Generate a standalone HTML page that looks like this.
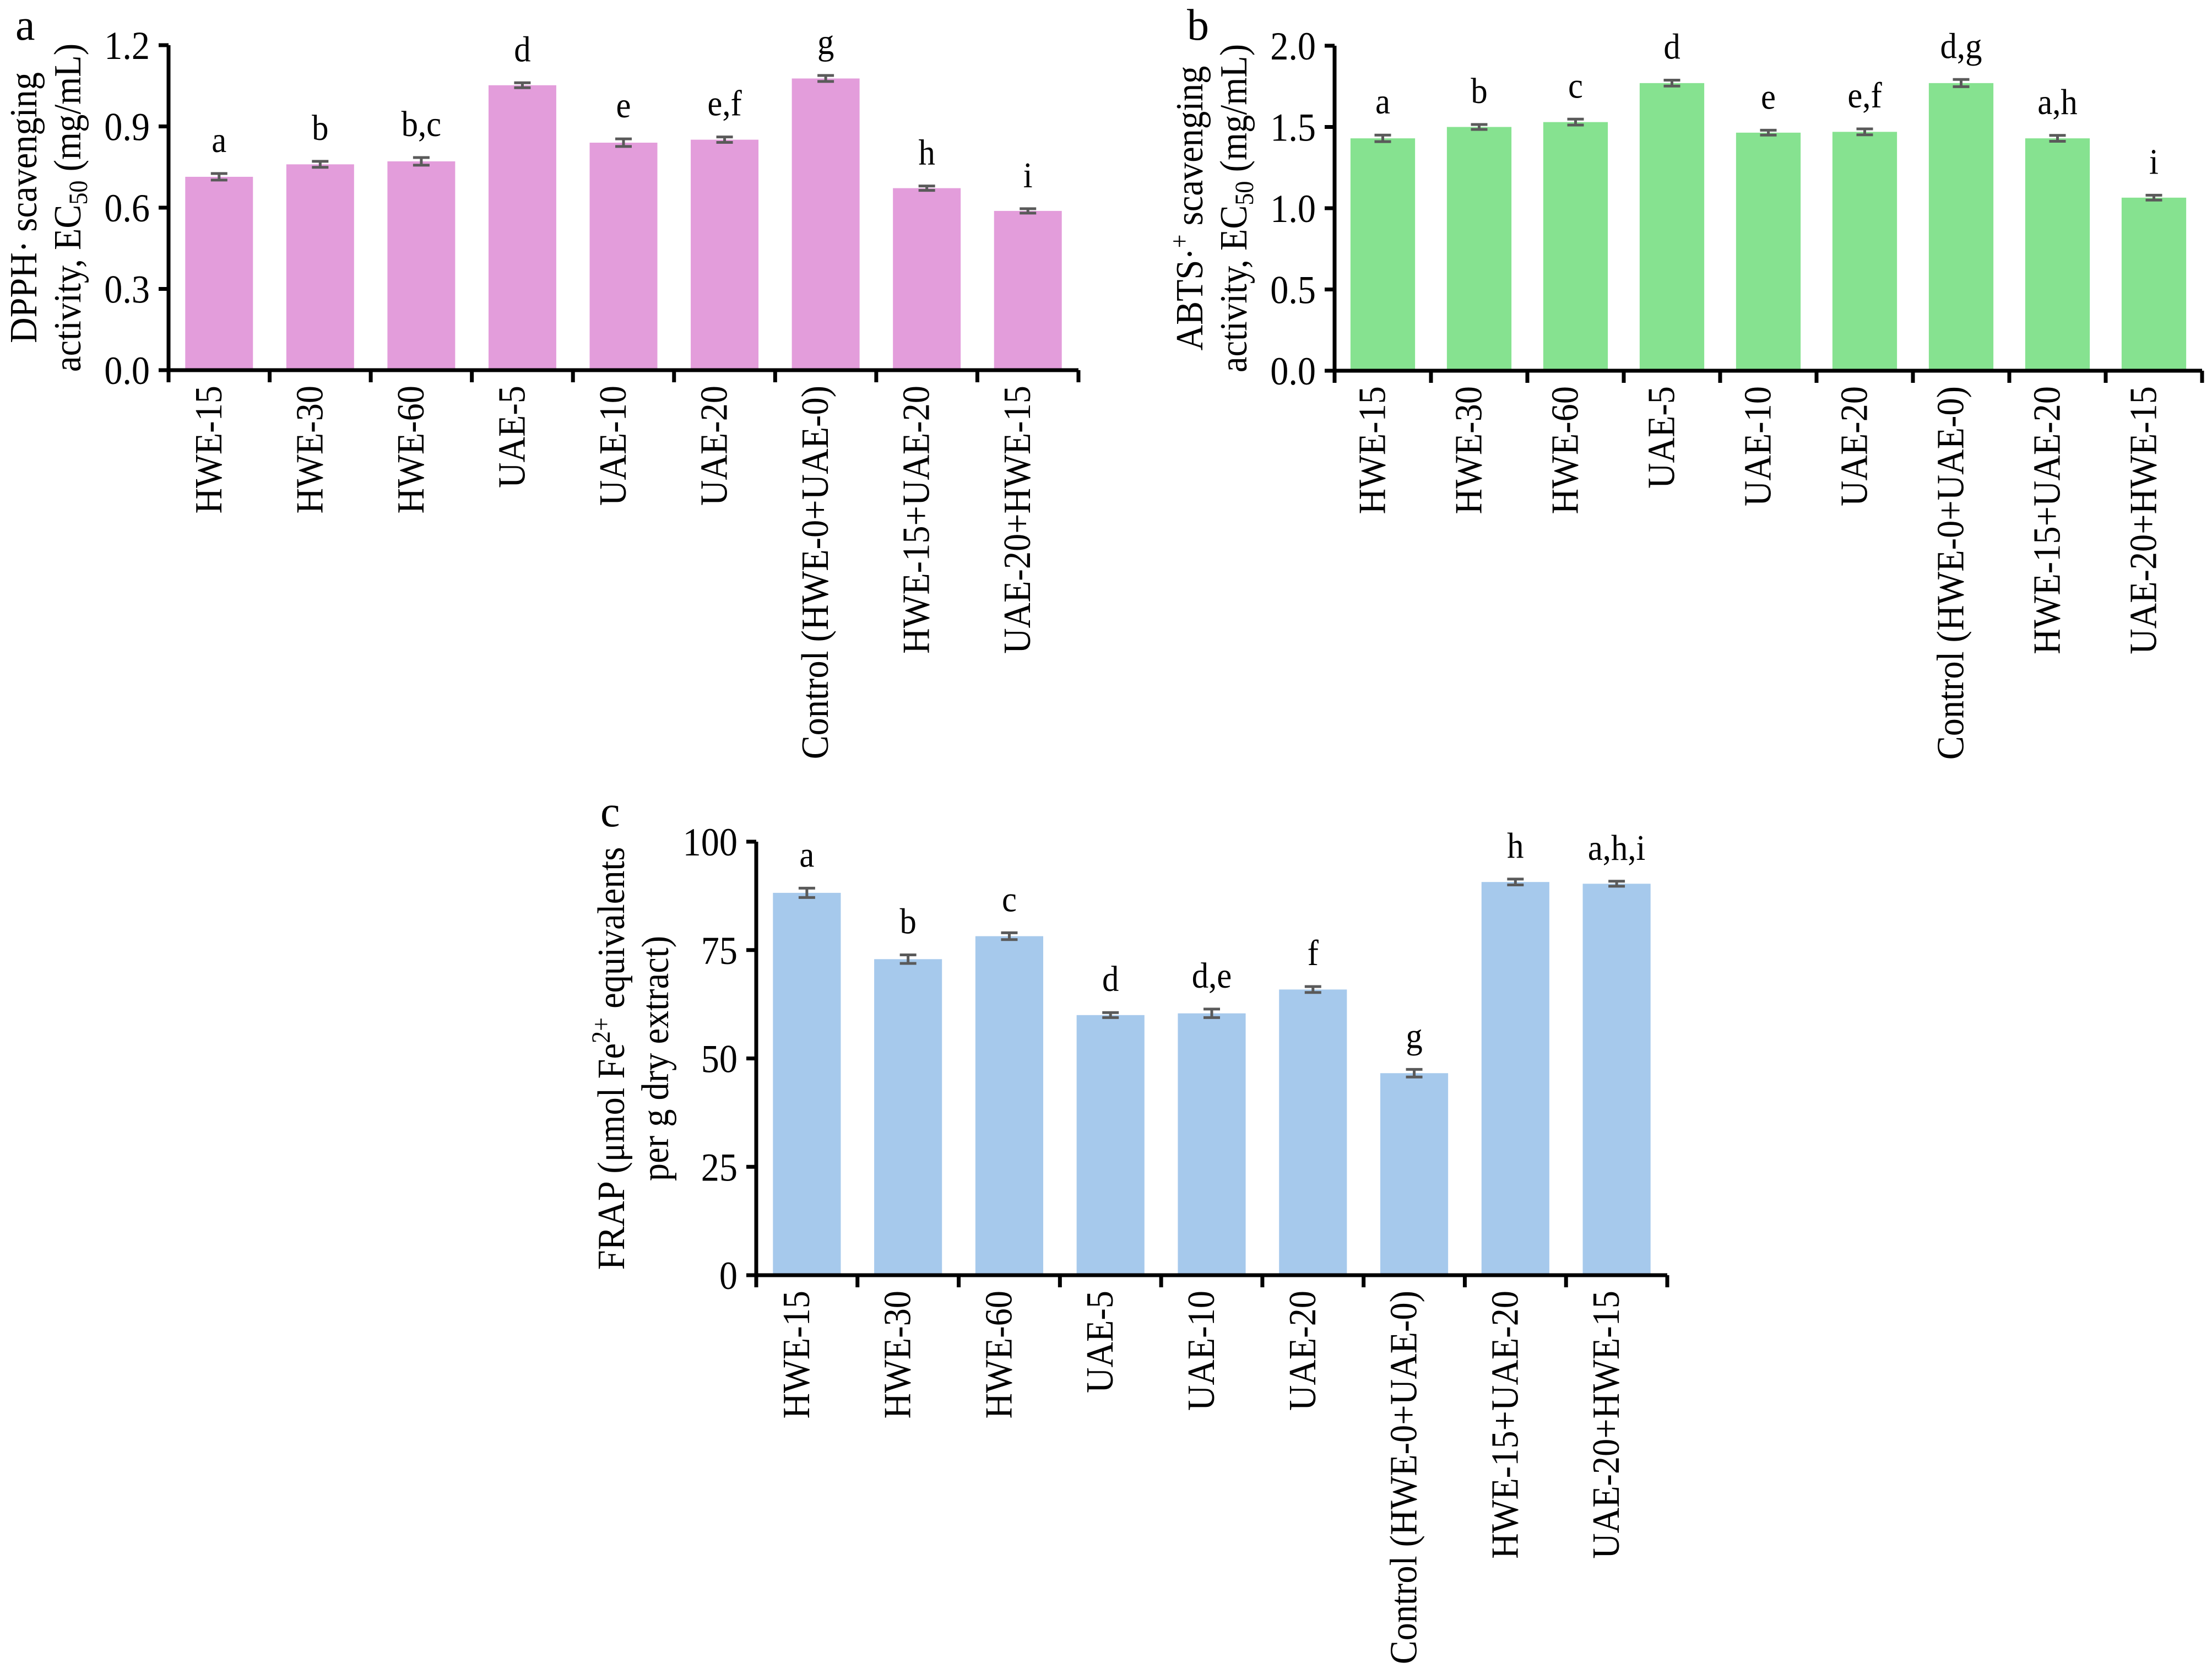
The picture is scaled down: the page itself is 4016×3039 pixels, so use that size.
<!DOCTYPE html>
<html><head><meta charset="utf-8"><style>
html,body{margin:0;padding:0;background:#fff;}
svg{display:block;font-family:"Liberation Serif","Times New Roman",serif;}
</style></head><body>
<svg id="fig" width="4016" height="3039" viewBox="0 0 4016 3039" xmlns="http://www.w3.org/2000/svg">
<rect width="4016" height="3039" fill="#fff"/>
</svg>
<script>
const categories = ["HWE-15","HWE-30","HWE-60","UAE-5","UAE-10","UAE-20","Control (HWE-0+UAE-0)","HWE-15+UAE-20","UAE-20+HWE-15"];
const dpphValues = [0.714,0.760,0.771,1.052,0.840,0.851,1.077,0.672,0.588];
const dpphErrors = [0.006,0.005,0.008,0.003,0.008,0.004,0.005,0.002,0.002];
const dpphLetters = ["a","b","b,c","d","e","e,f","g","h","i"];
const dpphTicks = [0.0,0.3,0.6,0.9,1.2];
const dpphTickLabels = ["0.0","0.3","0.6","0.9","1.2"];
const abtsValues = [1.43,1.50,1.53,1.77,1.465,1.47,1.77,1.43,1.065];
const abtsErrors = [0.010,0.005,0.008,0.008,0.005,0.008,0.012,0.008,0.005];
const abtsLetters = ["a","b","c","d","e","e,f","d,g","a,h","i"];
const abtsTicks = [0.0,0.5,1.0,1.5,2.0];
const abtsTickLabels = ["0.0","0.5","1.0","1.5","2.0"];
const frapValues = [88.2,72.9,78.2,60.0,60.4,65.9,46.6,90.7,90.3];
const frapErrors = [0.7,0.6,0.4,0.2,0.6,0.3,0.5,0.3,0.2];
const frapLetters = ["a","b","c","d","d,e","f","g","h","a,h,i"];
const frapTicks = [0,25,50,75,100];
const frapTickLabels = ["0","25","50","75","100"];

const NS = "http://www.w3.org/2000/svg";
const svg = document.getElementById("fig");
const SQ = 0.92;
function el(tag, attrs, parent){
  const e = document.createElementNS(NS, tag);
  for (const k in attrs) e.setAttribute(k, attrs[k]);
  (parent||svg).appendChild(e);
  return e;
}

function panel(cfg){
  const g = el("g", {});
  
  
  const x0 = cfg.x0, x1 = cfg.x1, yTop = cfg.yTop, yZero = cfg.yZero;
  const n = categories.length;
  const band = (x1 - x0) / n;
  const bw = band * 0.67;
  const ys = v => yZero - (v - cfg.min) / (cfg.max - cfg.min) * (yZero - yTop);
  const xc = i => x0 + band * (i + 0.5);

  cfg.values.forEach((v, i) => {
    const b = el("rect", {x: xc(i) - bw/2, y: ys(v), width: bw, height: yZero - ys(v), fill: cfg.color}, g);
    
    
    const e = cfg.errors[i];
    const eg = el("g", {stroke: "#5a5a5a", "stroke-width": 5}, g);
    
    
    el("line", {x1: xc(i), x2: xc(i), y1: ys(v + e) - 3, y2: ys(v - e) + 3}, eg);
    el("line", {x1: xc(i) - 15, x2: xc(i) + 15, y1: ys(v + e) - 3, y2: ys(v + e) - 3}, eg);
    el("line", {x1: xc(i) - 15, x2: xc(i) + 15, y1: ys(v - e) + 3, y2: ys(v - e) + 3}, eg);
    const t = el("text", {x: 0, y: 0, "font-size": 66, "text-anchor": "middle", fill: "#000",
      transform: `translate(${xc(i)},${ys(v + e) - 42}) scale(${SQ},1)`}, g);
    t.textContent = cfg.letters[i];
    
    
  });

  const ax = el("path", {d: `M${x0} ${yTop} V${yZero} H${x1}`, stroke: "#000", "stroke-width": 7, fill: "none"}, g);
  
  
  cfg.ticks.forEach((tv, i) => {
    el("line", {x1: x0 - 18, x2: x0, y1: ys(tv), y2: ys(tv), stroke: "#000", "stroke-width": 7}, g);
    const t = el("text", {x: 0, y: 0, "font-size": 72, "text-anchor": "end",
      transform: `translate(${x0 - 34},${ys(tv) + 25}) scale(${SQ},1)`}, g);
    t.textContent = cfg.tickLabels[i];
    
    
  });
  for (let i = 0; i <= n; i++) {
    el("line", {x1: x0 + band * i, x2: x0 + band * i, y1: yZero, y2: yZero + 22, stroke: "#000", "stroke-width": 7}, g);
  }
  categories.forEach((c, i) => {
    const t = el("text", {x: 0, y: 0, "font-size": 70, "text-anchor": "end",
      transform: `translate(${xc(i) + 4},${yZero + 28}) rotate(-90) scale(${SQ},1)`}, g);
    t.textContent = c;
    
    
  });

  const cy = (yTop + yZero) / 2;
  const t1 = el("text", {x: 0, y: 0, "font-size": 70, "text-anchor": "middle",
    transform: `translate(${x0 - 240},${cy}) rotate(-90) scale(${SQ},1)`}, g);
  t1.innerHTML = cfg.title1;
  
  
  const t2 = el("text", {x: 0, y: 0, "font-size": 70, "text-anchor": "middle",
    transform: `translate(${x0 - 160},${cy}) rotate(-90) scale(${SQ},1)`}, g);
  t2.innerHTML = cfg.title2;
  
  

  const pl = el("text", {x: cfg.lx, y: cfg.ly, "font-size": 80}, g);
  pl.textContent = cfg.label;
  
  
}

panel({name: "panel-a-dpph", x0: 306, x1: 1958, yTop: 82, yZero: 672, min: 0, max: 1.2,
  values: dpphValues, errors: dpphErrors, letters: dpphLetters, ticks: dpphTicks, tickLabels: dpphTickLabels,
  color: "#e39ddb", label: "a", lx: 28, ly: 72,
  title1: 'DPPH· scavenging',
  title2: 'activity, EC<tspan font-size="48" dy="12">50</tspan><tspan dy="-12"> (mg/mL)</tspan>'});

panel({name: "panel-b-abts", x0: 2423, x1: 3998, yTop: 83, yZero: 673, min: 0, max: 2.0,
  values: abtsValues, errors: abtsErrors, letters: abtsLetters, ticks: abtsTicks, tickLabels: abtsTickLabels,
  color: "#86e290", label: "b", lx: 2155, ly: 72,
  title1: 'ABTS·<tspan font-size="48" dy="-26">+</tspan><tspan dy="26"> scavenging</tspan>',
  title2: 'activity, EC<tspan font-size="48" dy="12">50</tspan><tspan dy="-12"> (mg/mL)</tspan>'});

panel({name: "panel-c-frap", x0: 1373, x1: 3027, yTop: 1528, yZero: 2315, min: 0, max: 100,
  values: frapValues, errors: frapErrors, letters: frapLetters, ticks: frapTicks, tickLabels: frapTickLabels,
  color: "#a6c9ec", label: "c", lx: 1090, ly: 1500,
  title1: 'FRAP (μmol Fe<tspan font-size="48" dy="-26">2+</tspan><tspan dy="26"> equivalents</tspan>',
  title2: 'per g dry extract)'});
</script>
</body></html>
